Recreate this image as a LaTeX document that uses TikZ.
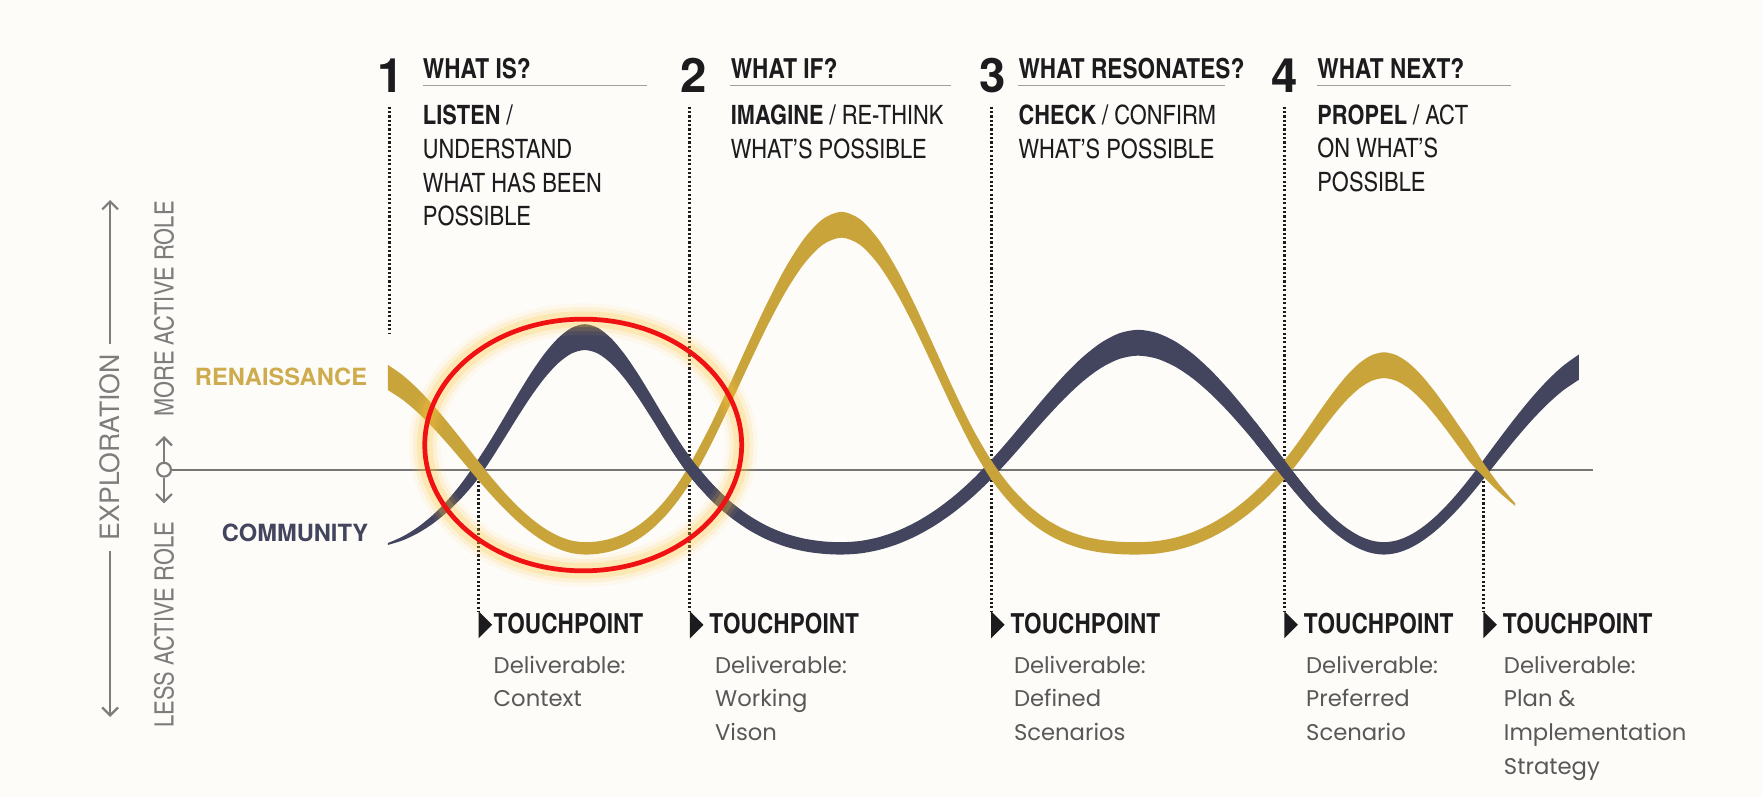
\documentclass[tikz,border=0pt]{standalone}
\usepackage{fontspec}
\setmainfont{TeX Gyre Heros}
\newfontfamily\condfont{texgyreheroscn}[Extension=.otf, UprightFont=*-regular, BoldFont=*-bold]
\newfontfamily\delfont{Poppins}
\usetikzlibrary{arrows.meta}

\definecolor{gold}{RGB}{201,164,58}
\definecolor{goldtext}{RGB}{206,172,78}
\definecolor{navy}{RGB}{67,69,95}
\definecolor{ink}{RGB}{28,28,30}
\definecolor{sidegray}{RGB}{125,125,125}
\definecolor{axisgray}{RGB}{118,118,118}
\definecolor{delgray}{RGB}{88,88,88}
\definecolor{paper}{RGB}{253,252,249}
\definecolor{glow}{RGB}{255,196,60}
\definecolor{ringred}{RGB}{240,18,18}

% one ribbon: amplitude, shape, taper, last t, samples, colour
\newcommand{\ribbon}[6]{%
  \fill[#6] plot[smooth, variable=\t, domain=-0.375:#4, samples=#5]
      ({xw(\t)}, {418-#1(\t)*#2(\t)-#3(\t)*hw(#1(\t),#2(\t))})
    -- plot[smooth, variable=\t, domain=#4:-0.375, samples=#5]
      ({xw(\t)}, {418-#1(\t)*#2(\t)+#3(\t)*hw(#1(\t),#2(\t))}) -- cycle;}

\begin{document}
\begin{tikzpicture}[
        x=0.02cm, y=-0.02cm,
        declare function={
            xw(\t)=(\t<0)*(425+213*\t)+and(\t>=0,\t<1)*(425+191*\t)
                +and(\t>=1,\t<2)*(616+266*(\t-1))+and(\t>=2,\t<3)*(882+261*(\t-2))
                +and(\t>=3,\t<4)*(1143+177*(\t-3))+(\t>=4)*(1320+227*(\t-4));
            uu(\t)=1-abs(1-2*(\t-floor(\t)));
            hc(\pu,\ps)=\ps*\pu+(3-2*\ps)*\pu*\pu+(\ps-2)*\pu*\pu*\pu;
            sn(\t)=(\t<0)*2.154+and(\t>=0,\t<0.5)*1.146+and(\t>=0.5,\t<1)*1.025
                +and(\t>=1,\t<1.5)*2.407+and(\t>=1.5,\t<2)*2.015+and(\t>=2,\t<2.5)*1.225
                +and(\t>=2.5,\t<3)*1.501+and(\t>=3,\t<3.5)*1.643+and(\t>=3.5,\t<4)*1.658
                +(\t>=4)*1.488;
            sg(\t)=(\t<0)*1.463+and(\t>=0,\t<0.5)*1.687+and(\t>=0.5,\t<1)*2.349
                +and(\t>=1,\t<1.5)*1.050+and(\t>=1.5,\t<2)*0.899+and(\t>=2,\t<2.5)*2.746
                +and(\t>=2.5,\t<3)*2.199+and(\t>=3,\t<3.5)*1.122+and(\t>=3.5,\t<4)*1.203
                +(\t>=4)*2.050;
            hn(\t)=hc(uu(\t),sn(\t));
            hg(\t)=hc(uu(\t),sg(\t));
            an(\t)=(\t<0)*(-70)+and(\t>=0,\t<1)*118+and(\t>=1,\t<2)*(-70)
                +and(\t>=2,\t<3)*113+and(\t>=3,\t<4)*(-70)+(\t>=4)*100;
            ag(\t)=(\t<0)*90+and(\t>=0,\t<1)*(-70)+and(\t>=1,\t<2)*218
                +and(\t>=2,\t<3)*(-70)+and(\t>=3,\t<4)*93+(\t>=4)*(-70);
            hw(\a,\p)=8.5+3*\a/abs(\a)*\p;
            tn(\t)=min(1,0.15+2.3*(\t+0.375));
            tg(\t)=min(1,4.5*(4.16-\t));
        },
        num/.style={anchor=base west, inner sep=0pt, text=ink, font=\bfseries\fontsize{24}{26}\selectfont},
        head/.style={anchor=base west, inner sep=0pt, text=ink, font=\condfont\bfseries\fontsize{14}{16}\selectfont},
        body/.style={anchor=base west, inner sep=0pt, text=ink, font=\condfont\fontsize{13.5}{16}\selectfont},
        tptext/.style={anchor=base west, inner sep=0pt, text=ink, font=\condfont\bfseries\fontsize{14}{16}\selectfont},
        deliv/.style={anchor=base west, inner sep=0pt, text=delgray, font=\delfont\fontsize{11.5}{14}\selectfont},
        side/.style={rotate=90, inner sep=0pt, text=sidegray, font=\condfont\fontsize{13.5}{16}\selectfont},
        rule/.style={axisgray!70, line width=0.6pt},
        dotline/.style={ink, line width=1.5pt, dash pattern=on 1.1pt off 1.1pt},
        sideline/.style={sidegray, line width=1.1pt},
        barb/.tip={Straight Barb[length=4pt, width=8pt]}
    ]
    \fill[paper] (0,0) rectangle (1568,709);
    \useasboundingbox (0,0) rectangle (1568,709);

    % side scale
    \node[side, inner xsep=5pt, fill=paper, font=\fontsize{13.5}{16}\selectfont] (expl) at (98,398) {EXPLORATION};
    \coordinate (exptop) at (98,178);
    \coordinate (expbot) at (98,638);
    \draw[sideline, -barb] (expl.east) -- (exptop);
    \draw[sideline, -barb] (expl.west) -- (expbot);
    \node[side] (more) at (146,275) {MORE ACTIVE ROLE};
    \node[side] (less) at (146,556) {LESS ACTIVE ROLE};
    \node[circle, draw=sidegray, line width=1.1pt, fill=paper, inner sep=0pt, minimum size=7pt] (zero) at (146,418) {};
    \coordinate (roleup) at (146,388);
    \coordinate (roledn) at (146,448);
    \draw[sideline, -barb] (zero) -- (roleup);
    \draw[sideline, -barb] (zero) -- (roledn);
    \coordinate (axend) at (1418,418);
    \draw[axisgray, line width=1.2pt] (zero) -- (axend);

    \node[anchor=base east, inner sep=0pt, text=goldtext, font=\bfseries\fontsize{12}{14}\selectfont] (ren) at (327,343) {RENAISSANCE};
    \node[anchor=base east, inner sep=0pt, text=navy, font=\bfseries\fontsize{12}{14}\selectfont] (com) at (328,482) {COMMUNITY};

    % dotted guides
    \coordinate (d1) at (347,95);
    \coordinate (e1) at (347,297);
    \draw[dotline] (d1) -- (e1);
    \coordinate (d2) at (614,95);
    \coordinate (t2) at (614,544);
    \draw[dotline] (d2) -- (t2);
    \coordinate (d3) at (882,95);
    \coordinate (t3) at (882,544);
    \draw[dotline] (d3) -- (t3);
    \coordinate (d4) at (1143,95);
    \coordinate (t4) at (1143,544);
    \draw[dotline] (d4) -- (t4);
    \coordinate (d0) at (426,420);
    \coordinate (t1) at (426,544);
    \draw[dotline] (d0) -- (t1);
    \coordinate (d5) at (1320,420);
    \coordinate (t5) at (1320,544);
    \draw[dotline] (d5) -- (t5);

    % ribbons
    \ribbon{an}{hn}{tn}{4.375}{77}{navy}
    \ribbon{ag}{hg}{tg}{4.125}{73}{gold}
    \begin{scope}
        \clip (588,370) rectangle (645,468);
        \ribbon{an}{hn}{tn}{4.375}{77}{navy}
    \end{scope}
    \begin{scope}
        \clip (1117,370) rectangle (1170,468);
        \ribbon{an}{hn}{tn}{4.375}{77}{navy}
    \end{scope}

    % phases
    \node[num] (n1) at (336,82) {1};
    \node[head] (h1) at (376,70) {WHAT IS?};
    \draw[rule] (376,76) -- (576,76);
    \node[body] (b11) at (376,111) {\textbf{LISTEN} /};
    \node[body] (b12) at (376,141) {UNDERSTAND};
    \node[body] (b13) at (376,171) {WHAT HAS BEEN};
    \node[body] (b14) at (376,201) {POSSIBLE};

    \node[num] (n2) at (605,82) {2};
    \node[head] (h2) at (650,70) {WHAT IF?};
    \draw[rule] (650,76) -- (846,76);
    \node[body] (b21) at (650,111) {\textbf{IMAGINE} / RE-THINK};
    \node[body] (b22) at (650,141) {WHAT’S POSSIBLE};

    \node[num] (n3) at (871,82) {3};
    \node[head] (h3) at (906,70) {WHAT RESONATES?};
    \draw[rule] (906,76) -- (1090,76);
    \node[body] (b31) at (906,111) {\textbf{CHECK} / CONFIRM};
    \node[body] (b32) at (906,141) {WHAT’S POSSIBLE};

    \node[num] (n4) at (1131,82) {4};
    \node[head] (h4) at (1172,70) {WHAT NEXT?};
    \draw[rule] (1172,76) -- (1345,76);
    \node[body] (b41) at (1172,111) {\textbf{PROPEL} / ACT};
    \node[body] (b42) at (1172,140) {ON WHAT’S};
    \node[body] (b43) at (1172,170) {POSSIBLE};

    % touchpoints
    \fill[ink] (t1) -- ++(12,12) -- ++(-12,12) -- cycle;
    \node[tptext] (tp1) at (439,564) {TOUCHPOINT};
    \node[deliv] (dl11) at (439,599) {Deliverable:};
    \node[deliv] (dl12) at (439,629) {Context};

    \fill[ink] (t2) -- ++(12,12) -- ++(-12,12) -- cycle;
    \node[tptext] (tp2) at (631,564) {TOUCHPOINT};
    \node[deliv] (dl21) at (636,599) {Deliverable:};
    \node[deliv] (dl22) at (636,629) {Working};
    \node[deliv] (dl23) at (636,659) {Vison};

    \fill[ink] (t3) -- ++(12,12) -- ++(-12,12) -- cycle;
    \node[tptext] (tp3) at (899,564) {TOUCHPOINT};
    \node[deliv] (dl31) at (902,599) {Deliverable:};
    \node[deliv] (dl32) at (902,629) {Defined};
    \node[deliv] (dl33) at (902,659) {Scenarios};

    \fill[ink] (t4) -- ++(12,12) -- ++(-12,12) -- cycle;
    \node[tptext] (tp4) at (1160,564) {TOUCHPOINT};
    \node[deliv] (dl41) at (1162,599) {Deliverable:};
    \node[deliv] (dl42) at (1162,629) {Preferred};
    \node[deliv] (dl43) at (1162,659) {Scenario};

    \fill[ink] (t5) -- ++(12,12) -- ++(-12,12) -- cycle;
    \node[tptext] (tp5) at (1337,564) {TOUCHPOINT};
    \node[deliv] (dl51) at (1338,599) {Deliverable:};
    \node[deliv] (dl52) at (1338,629) {Plan \&};
    \node[deliv] (dl53) at (1338,659) {Implementation};
    \node[deliv] (dl54) at (1338,689) {Strategy};

    % highlight ring
    \foreach \w/\o in {16/0.07, 12/0.12, 8/0.22}
        \draw[glow, line width=\w pt, opacity=\o] (519,396) ellipse [x radius=141, y radius=112];
    \draw[ringred, line width=2.4pt] (519,396) ellipse [x radius=141, y radius=112];
\end{tikzpicture}
\end{document}
